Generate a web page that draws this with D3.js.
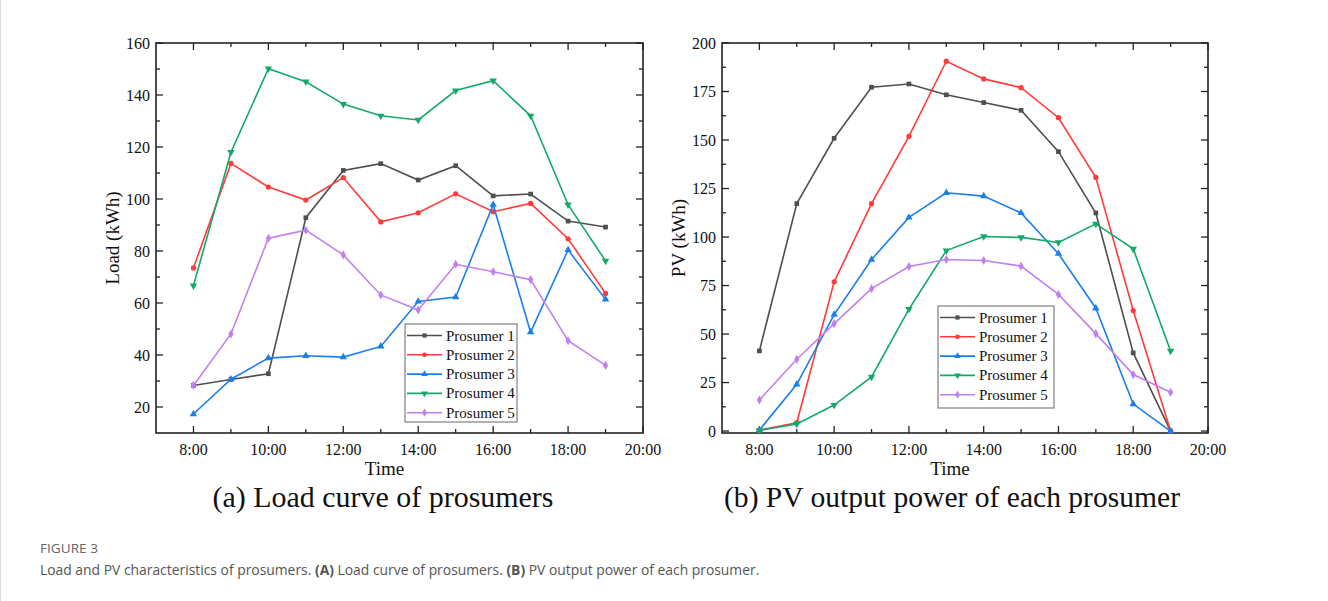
<!DOCTYPE html>
<html><head><meta charset="utf-8">
<script src="https://cdn.jsdelivr.net/npm/d3@7"></script>
<style>
html,body{margin:0;padding:0;background:#fff;}
svg{display:block;}
</style></head>
<body>
<svg id="chart" width="1328" height="601"></svg>
<script>
const hours = [8,9,10,11,12,13,14,15,16,17,18,19];
const seriesNames = ["Prosumer 1","Prosumer 2","Prosumer 3","Prosumer 4","Prosumer 5"];
// Load (kWh)
const load1 = [28.3,30.6,32.8,92.8,111.0,113.6,107.3,112.8,101.2,101.9,91.5,89.2];
const load2 = [73.5,113.7,104.6,99.6,108.2,91.2,94.7,102.0,95.1,98.3,84.7,63.7];
const load3 = [17.3,30.7,38.8,39.7,39.2,43.3,60.6,62.3,97.8,48.8,80.4,61.4];
const load4 = [66.7,118.0,150.1,145.1,136.5,132.0,130.4,141.7,145.5,132.0,97.8,76.2];
const load5 = [28.3,48.1,84.9,88.0,78.5,63.1,57.3,74.9,72.0,69.0,45.5,36.0];
// PV (kWh)
const pv1 = [41.3,117.2,150.9,177.2,178.9,173.3,169.3,165.3,144.0,112.4,40.3,0.0];
const pv2 = [0.5,4.3,76.9,117.2,151.9,190.6,181.5,177.0,161.5,130.7,62.1,0.0];
const pv3 = [0.5,24.1,60.0,88.4,110.1,122.8,121.1,112.4,91.4,63.3,13.9,0.0];
const pv4 = [0.3,3.6,13.4,27.9,62.8,93.0,100.3,99.8,97.2,106.8,93.9,41.3];
const pv5 = [16.0,37.0,55.4,73.4,84.8,88.4,87.9,85.0,70.4,50.2,29.1,20.0];
const xTickLabels = ["8:00","10:00","12:00","14:00","16:00","18:00","20:00"];
const loadTicks = [20,40,60,80,100,120,140,160];
const pvTicks = [0,25,50,75,100,125,150,175,200];

const colors = ["#4f4f4f","#ff3b3b","#1a7fe8","#14a86a","#c27ff0"];
const symbols = [d3.symbolSquare, d3.symbolCircle, d3.symbolTriangle, d3.symbolTriangle, d3.symbolDiamond];
const rotations = [0,0,0,180,0];
const symSizes = [22,22,24,24,24];

const svg = d3.select("#chart");
const serif = "'Liberation Serif','Times New Roman',serif";

function drawPanel(cfg){
  const {x0,x1,y0,y1,yDomain,yTicks,yMinor,data,ylabel,legend,title,titleX,titleW} = cfg;
  const x = d3.scaleLinear().domain([7,20]).range([x0,x1]);
  const y = d3.scaleLinear().domain(yDomain).range([y1,y0]);
  const g = svg.append("g");
  const majorX = d3.range(8,21,2), minorX = d3.range(9,20,2);
  const tk = g.append("g").attr("stroke","#222").attr("stroke-width",1.3);
  majorX.forEach(v=>{
    tk.append("line").attr("x1",x(v)).attr("x2",x(v)).attr("y1",y1).attr("y2",y1-7);
    tk.append("line").attr("x1",x(v)).attr("x2",x(v)).attr("y1",y0).attr("y2",y0+7);
  });
  minorX.forEach(v=>{
    tk.append("line").attr("x1",x(v)).attr("x2",x(v)).attr("y1",y1).attr("y2",y1-4);
    tk.append("line").attr("x1",x(v)).attr("x2",x(v)).attr("y1",y0).attr("y2",y0+4);
  });
  yTicks.forEach(v=>{
    tk.append("line").attr("x1",x0).attr("x2",x0+7).attr("y1",y(v)).attr("y2",y(v));
    tk.append("line").attr("x1",x1).attr("x2",x1-7).attr("y1",y(v)).attr("y2",y(v));
  });
  yMinor.forEach(v=>{
    tk.append("line").attr("x1",x0).attr("x2",x0+4).attr("y1",y(v)).attr("y2",y(v));
    tk.append("line").attr("x1",x1).attr("x2",x1-4).attr("y1",y(v)).attr("y2",y(v));
  });
  g.append("rect").attr("x",x0).attr("y",y0).attr("width",x1-x0).attr("height",y1-y0)
    .attr("fill","none").attr("stroke","#222").attr("stroke-width",1.6);
  majorX.forEach((v,i)=>{
    g.append("text").attr("x",x(v)).attr("y",y1+22).attr("text-anchor","middle")
      .attr("font-family",serif).attr("font-size",16).attr("fill","#111").text(xTickLabels[i]);
  });
  yTicks.forEach(v=>{
    g.append("text").attr("x",x0-6).attr("y",y(v)+5.5).attr("text-anchor","end")
      .attr("font-family",serif).attr("font-size",16).attr("fill","#111").text(v);
  });
  g.append("text").attr("x",x(13.1)).attr("y",y1+42).attr("text-anchor","middle")
    .attr("font-family",serif).attr("font-size",19).attr("fill","#111").text("Time");
  g.append("text").attr("transform",`translate(${cfg.ylabX},${(y0+y1)/2}) rotate(-90)`)
    .attr("text-anchor","middle").attr("font-family",serif).attr("font-size",19).attr("fill","#111").text(ylabel);
  const line = d3.line().x((d,i)=>x(hours[i])).y(d=>y(d));
  data.forEach((arr,k)=>{
    g.append("path").datum(arr).attr("d",line).attr("fill","none")
      .attr("stroke",colors[k]).attr("stroke-width",1.6);
    g.selectAll(null).data(arr).enter().append("path")
      .attr("d",d3.symbol().type(symbols[k]).size(symSizes[k]))
      .attr("transform",(d,i)=>`translate(${x(hours[i])},${y(d)}) rotate(${rotations[k]})`)
      .attr("fill",colors[k]);
  });
  const lg = g.append("g");
  lg.append("rect").attr("x",legend.x).attr("y",legend.y).attr("width",legend.w).attr("height",legend.h)
    .attr("fill","#fff").attr("stroke","#666").attr("stroke-width",1);
  seriesNames.forEach((n,k)=>{
    const ly = legend.y + 11.5 + k*19.3;
    lg.append("line").attr("x1",legend.x+2).attr("x2",legend.x+37).attr("y1",ly).attr("y2",ly)
      .attr("stroke",colors[k]).attr("stroke-width",1.6);
    lg.append("path").attr("d",d3.symbol().type(symbols[k]).size(symSizes[k]*0.8))
      .attr("transform",`translate(${legend.x+19.5},${ly}) rotate(${rotations[k]})`).attr("fill",colors[k]);
    lg.append("text").attr("x",legend.x+41).attr("y",ly+5).attr("font-family",serif)
      .attr("font-size",15).attr("fill","#111").text(n);
  });
  svg.append("text").attr("x",titleX - titleW/2).attr("y",507)
    .attr("font-family",serif).attr("font-size",29).attr("fill","#111")
    .attr("textLength",titleW).attr("lengthAdjust","spacingAndGlyphs").text(title);
}

drawPanel({x0:156,x1:643,y0:43,y1:433,yDomain:[10,160],yTicks:loadTicks,
  yMinor:[30,50,70,90,110,130,150],data:[load1,load2,load3,load4,load5],
  ylabel:"Load (kWh)",ylabX:119,legend:{x:405,y:324,w:112,h:98},
  title:"(a) Load curve of prosumers",titleX:383,titleW:341});
drawPanel({x0:722,x1:1208,y0:43,y1:433,yDomain:[-1,200],yTicks:pvTicks,
  yMinor:[12.5,37.5,62.5,87.5,112.5,137.5,162.5,187.5],data:[pv1,pv2,pv3,pv4,pv5],
  ylabel:"PV (kWh)",ylabX:685,legend:{x:938,y:306,w:116,h:102},
  title:"(b) PV output power of each prosumer",titleX:952,titleW:456});

const sans = "'Open Sans','Noto Sans',sans-serif";
svg.append("text").attr("x",40).attr("y",553).attr("font-family",sans).attr("font-size",13.5)
  .attr("fill","#666").attr("textLength",58).attr("lengthAdjust","spacingAndGlyphs").text("FIGURE 3");
const capG = svg.append("g");
const cap = capG.append("text").attr("x",0).attr("y",0).attr("font-family",sans).attr("font-size",15)
  .attr("fill","#555");
cap.append("tspan").text("Load and PV characteristics of prosumers. ");
cap.append("tspan").attr("font-weight","bold").text("(A)");
cap.append("tspan").text(" Load curve of prosumers. ");
cap.append("tspan").attr("font-weight","bold").text("(B)");
cap.append("tspan").text(" PV output power of each prosumer.");
const natW = cap.node().getBBox().width || 777;
capG.attr("transform",`translate(40,575) scale(${720/natW},1)`);
svg.append("line").attr("x1",0.5).attr("x2",0.5).attr("y1",0).attr("y2",601).attr("stroke","#ddd");
</script>
</body></html>
